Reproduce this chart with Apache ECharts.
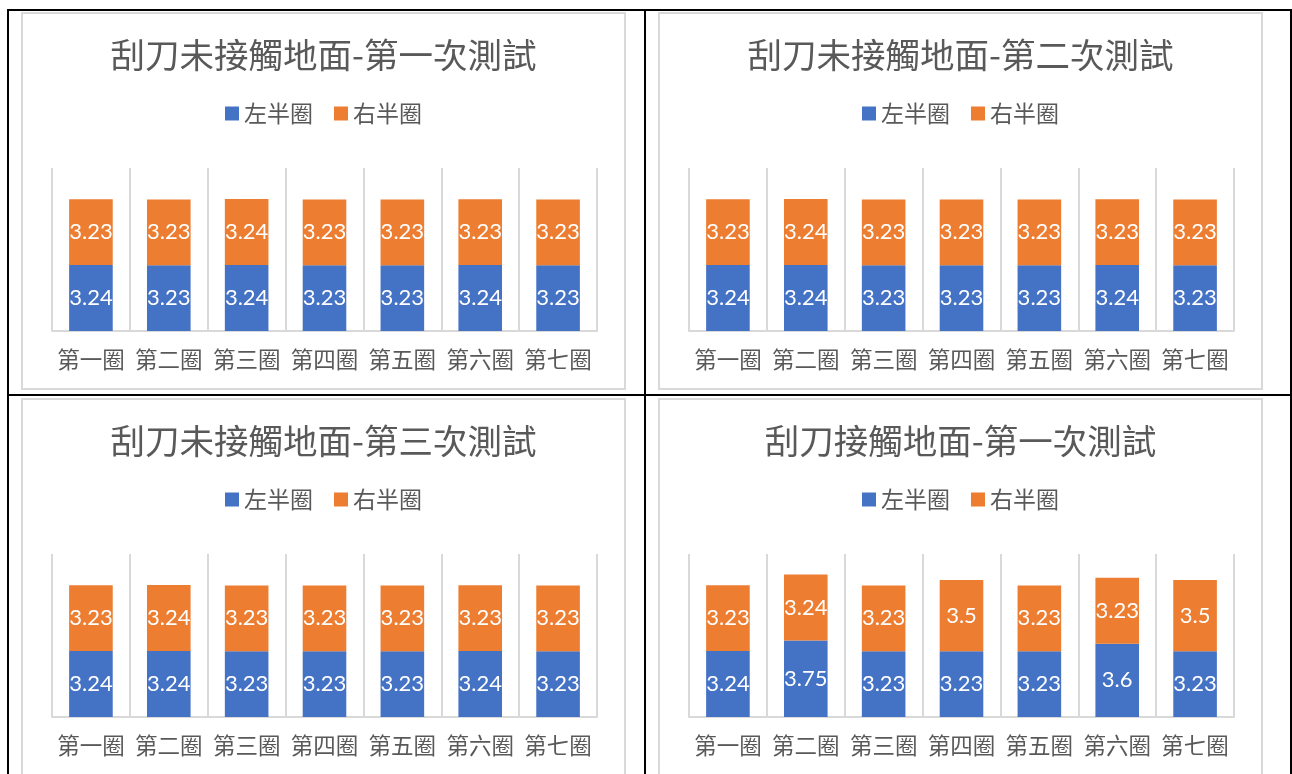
<!DOCTYPE html>
<html>
<head>
<meta charset="utf-8">
<script src="https://cdn.jsdelivr.net/npm/echarts@6/dist/echarts.min.js"></script>
<style>
  html, body { margin: 0; padding: 0; background: #fff; width: 1292px; height: 774px; overflow: hidden; }
  .line { position: absolute; background: #000; }
  .box { position: absolute; width: 605px; height: 378px; box-sizing: border-box; border: 2px solid #d9d9d9; background: #fff; }
</style>
</head>
<body>
<!-- table rules -->
<div class="line" style="left:8px; top:9px; width:1284px; height:2px;"></div>
<div class="line" style="left:8px; top:394px; width:1284px; height:2px;"></div>
<div class="line" style="left:7px; top:9px; width:2px; height:770px;"></div>
<div class="line" style="left:644px; top:9px; width:2px; height:770px;"></div>
<div class="line" style="left:1290px; top:9px; width:2px; height:770px;"></div>

<div id="c1" class="box" style="left:21px; top:12px;"></div>
<div id="c2" class="box" style="left:658px; top:12px;"></div>
<div id="c3" class="box" style="left:21px; top:398px;"></div>
<div id="c4" class="box" style="left:658px; top:398px;"></div>

<script>
// Lap categories shared by all four charts
const categories = ['第一圈', '第二圈', '第三圈', '第四圈', '第五圈', '第六圈', '第七圈'];
const seriesNames = ['左半圈', '右半圈'];

// Test 1, scraper not touching the ground
const title1 = '刮刀未接觸地面-第一次測試';
const left1  = [3.24, 3.23, 3.24, 3.23, 3.23, 3.24, 3.23];
const right1 = [3.23, 3.23, 3.24, 3.23, 3.23, 3.23, 3.23];

// Test 2, scraper not touching the ground
const title2 = '刮刀未接觸地面-第二次測試';
const left2  = [3.24, 3.24, 3.23, 3.23, 3.23, 3.24, 3.23];
const right2 = [3.23, 3.24, 3.23, 3.23, 3.23, 3.23, 3.23];

// Test 3, scraper not touching the ground
const title3 = '刮刀未接觸地面-第三次測試';
const left3  = [3.24, 3.24, 3.23, 3.23, 3.23, 3.24, 3.23];
const right3 = [3.23, 3.24, 3.23, 3.23, 3.23, 3.23, 3.23];

// Test 1, scraper touching the ground
const title4 = '刮刀接觸地面-第一次測試';
const left4  = [3.24, 3.75, 3.23, 3.23, 3.23, 3.6, 3.23];
const right4 = [3.23, 3.24, 3.23, 3.5, 3.23, 3.23, 3.5];

const CJK = '"Noto Sans CJK TC", "Noto Sans CJK SC", sans-serif';
const NUM = 'Lato, "Noto Sans", sans-serif';
const GREY_TEXT = '#595959';
const GRID_LINE = '#d9d9d9';
const COLORS = ['#4472C4', '#ED7D31'];

function buildOption(title, leftVals, rightVals) {
  const barSeries = (name, data) => ({
    name: name,
    type: 'bar',
    stack: 'lap',
    data: data,
    barWidth: '56%',
    label: {
      show: true,
      position: 'inside',
      color: '#fff',
      fontFamily: NUM,
      fontSize: 22
    }
  });
  return {
    animation: false,
    color: COLORS,
    title: {
      text: title,
      left: 'center',
      top: 19,
      textStyle: { fontFamily: CJK, fontSize: 34.5, fontWeight: 'normal', color: GREY_TEXT }
    },
    legend: {
      data: seriesNames,
      left: 'center',
      top: 83,
      icon: 'rect',
      itemWidth: 14,
      itemHeight: 14,
      itemGap: 21,
      textStyle: { fontFamily: CJK, fontSize: 23, color: GREY_TEXT }
    },
    grid: { left: 29, right: 27, top: 154, bottom: 57 },
    xAxis: {
      type: 'category',
      data: categories,
      boundaryGap: true,
      axisLine: { lineStyle: { color: GRID_LINE, width: 2 } },
      axisTick: { show: false },
      splitLine: { show: true, lineStyle: { color: GRID_LINE, width: 2 } },
      axisLabel: { fontFamily: CJK, fontSize: 22.5, color: GREY_TEXT, margin: 17, interval: 0 }
    },
    yAxis: {
      type: 'value',
      min: 0,
      max: 8,
      show: false,
      splitLine: { show: false }
    },
    series: [barSeries(seriesNames[0], leftVals), barSeries(seriesNames[1], rightVals)]
  };
}

const panels = [
  ['c1', title1, left1, right1],
  ['c2', title2, left2, right2],
  ['c3', title3, left3, right3],
  ['c4', title4, left4, right4]
];
panels.forEach(([id, t, l, r]) => {
  const chart = echarts.init(document.getElementById(id), null, { renderer: 'canvas' });
  chart.setOption(buildOption(t, l, r));
});
</script>
</body>
</html>
